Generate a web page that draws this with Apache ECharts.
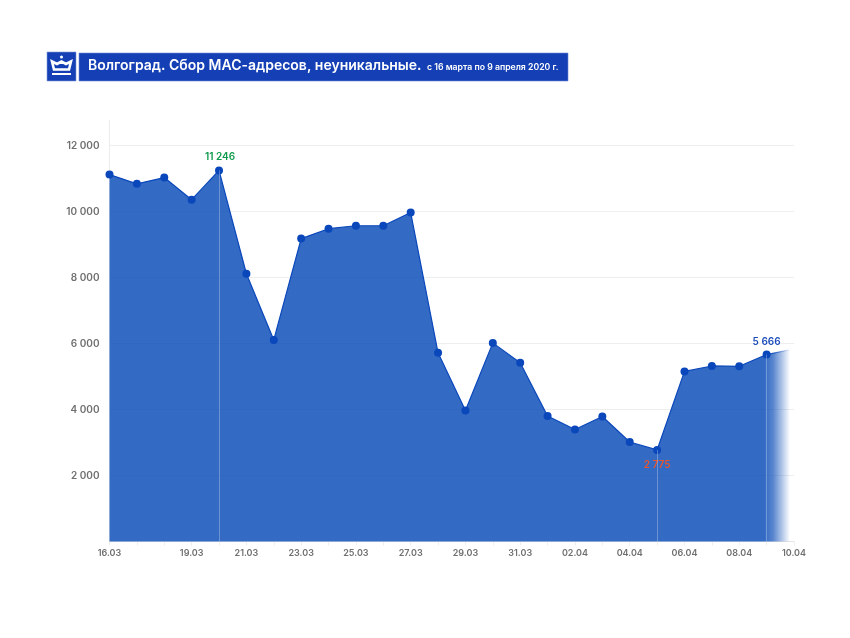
<!DOCTYPE html>
<html>
<head>
<meta charset="utf-8">
<style>html,body{margin:0;padding:0;background:#fff}#chart{width:850px;height:638px}</style>
<script src="https://cdn.jsdelivr.net/npm/echarts@6/dist/echarts.min.js"></script>
</head>
<body>
<div id="chart"></div>
<script>
// Collected MAC addresses per day, Volgograd
const days = ['16.03','17.03','18.03','19.03','20.03','21.03','22.03','23.03','24.03','25.03','26.03','27.03','28.03','29.03','30.03','31.03','01.04','02.04','03.04','04.04','05.04','06.04','07.04','08.04','09.04','10.04'];
const counts = [11120,10840,11030,10360,11246,8115,6110,9180,9480,9570,9570,9970,5720,3970,6020,5415,3805,3395,3790,3015,2775,5155,5320,5310,5666,5840];
const shownDays = ['16.03','19.03','21.03','23.03','25.03','27.03','29.03','31.03','02.04','04.04','06.04','08.04','10.04'];
const highlights = [
  {index: 4, color: '#0e9a4c', position: 'top', offset: [1, 1]},
  {index: 20, color: '#e8552d', position: 'bottom', offset: [0, 1]},
  {index: 24, color: '#1a4bbb', position: 'top', offset: [0, 1]}
];
const titleMain = 'Волгоград. Сбор МАС-адресов, неуникальные.';
const titleSub = 'с 16 марта по 9 апреля 2020 г.';

const FONT = 'Inter, "Noto Sans", sans-serif';
const group = n => String(n).replace(/\B(?=(\d{3})+$)/g, ' ');
const chart = echarts.init(document.getElementById('chart'), null, {renderer: 'canvas'});

// Horizontal fade towards the last day, expressed in canvas pixels
const fade = (r, g, b, a) => new echarts.graphic.LinearGradient(109.5, 0, 790, 0, [
  {offset: 0, color: `rgba(${r},${g},${b},${a})`},
  {offset: 0.962, color: `rgba(${r},${g},${b},${a})`},
  {offset: 0.975, color: `rgba(${r},${g},${b},${a * 0.82})`},
  {offset: 1, color: `rgba(${r},${g},${b},0)`}
], true);

const points = counts.map((value, i) => {
  const h = highlights.find(d => d.index === i);
  const item = {value};
  if (i === counts.length - 1) item.symbolSize = 0;
  if (h) item.label = {
    show: true, position: h.position, offset: h.offset, color: h.color,
    fontFamily: FONT, fontSize: 10, fontWeight: 600, formatter: group(value)
  };
  return item;
});

chart.setOption({
  animation: false,
  backgroundColor: '#fff',
  grid: {left: 109.5, right: 56, top: 120, bottom: 96.5},
  xAxis: {
    type: 'category', data: days, boundaryGap: false,
    axisLine: {lineStyle: {color: '#e6e6e6'}},
    axisTick: {show: true, length: 4, interval: 0, lineStyle: {color: '#eeeeee'}},
    axisLabel: {
      interval: 0, margin: 7, color: '#6f6f6f', fontFamily: FONT, fontSize: 9, fontWeight: 600,
      formatter: v => shownDays.includes(v) ? v : ''
    },
    splitLine: {show: false}
  },
  yAxis: {
    type: 'value', min: 0, max: 12775, interval: 2000,
    axisLine: {show: true, lineStyle: {color: '#ececec', width: 1}},
    axisTick: {show: false},
    axisLabel: {
      margin: 10, padding: [3, 0, 0, 0], color: '#6f6f6f', fontFamily: FONT, fontSize: 10, fontWeight: 600,
      showMinLabel: false, showMaxLabel: false, formatter: group
    },
    splitLine: {show: true, showMinLine: false, showMaxLine: false, lineStyle: {color: '#eeeeee'}}
  },
  series: [{
    type: 'line', data: points, smooth: false,
    symbol: 'circle', symbolSize: 8,
    itemStyle: {color: '#0a47bb'},
    lineStyle: {width: 1.2, color: fade(10, 71, 187, 1)},
    areaStyle: {color: fade(10, 76, 184, 0.83), opacity: 1},
    markLine: {
      silent: true, symbol: 'none', animation: false, label: {show: false},
      lineStyle: {color: 'rgba(255,255,255,0.28)', width: 1, type: 'solid'},
      data: highlights.map(h => [
        {coord: [h.index, counts[h.index]]},
        {coord: [h.index, 0]}
      ])
    }
  }],
  graphic: [
    {type: 'rect', shape: {x: 47, y: 52, width: 29, height: 29}, style: {fill: '#1540b5', stroke: '#7f97da', lineWidth: 0.6}},
    {type: 'rect', shape: {x: 79, y: 53, width: 489, height: 28}, style: {fill: '#1540b5', stroke: '#6f8bd6', lineWidth: 0.6}},
    {type: 'polygon', shape: {points: [[52,61.5],[57,64],[61.5,61.5],[66,64],[71,61.5],[69,69.5],[54,69.5]]}, style: {fill: '#1540b5', stroke: '#fff', lineWidth: 2.6}},
    {type: 'rect', shape: {x: 52, y: 73, width: 19, height: 2}, style: {fill: '#fff'}},
    {type: 'circle', shape: {cx: 61.5, cy: 57, r: 1.5}, style: {fill: '#fff'}},
    {type: 'text', left: 88, top: 59, style: {text: titleMain, fill: '#fff', font: '600 14px ' + FONT}},
    {type: 'text', left: 427, top: 63, style: {text: titleSub, fill: '#fff', font: '600 8.7px ' + FONT}}
  ]
});
</script>
</body>
</html>
